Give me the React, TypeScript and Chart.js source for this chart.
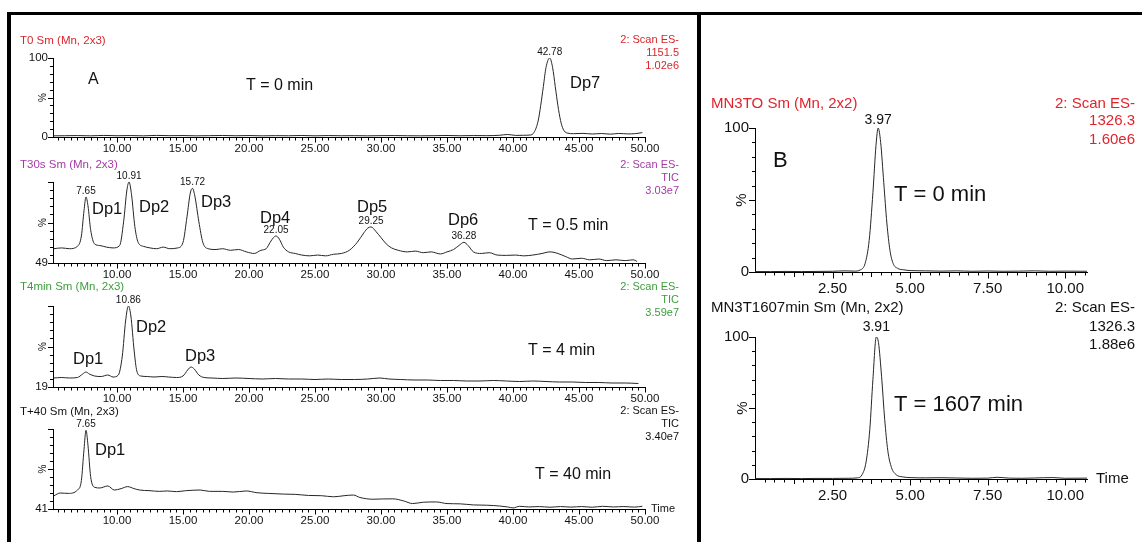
import React, { useEffect, useRef } from 'react';
import { Chart, registerables } from 'chart.js';

Chart.register(...registerables);

const FONT = '"Liberation Sans", Arial, Helvetica, sans-serif';

// ---------------- data (retention time [min], relative intensity [%]) ----------------
const T0_TRACE: [number, number][] = [
  [5.2, 1.5], [6, 1.6], [7, 1.8], [8, 1.5], [9, 2.0], [10, 1.6], [11, 1.8], [12, 1.5], [13, 2.0], [14, 1.7],
  [15, 1.8], [16, 1.5], [17, 1.7], [18, 1.9], [19, 1.6], [20, 1.8], [21, 1.5], [22, 1.7], [23, 1.6], [24, 1.9],
  [25, 1.5], [26, 1.8], [27, 1.6], [28, 1.7], [29, 1.5], [30, 1.7], [31, 1.8], [32, 1.6], [33, 1.5], [34, 1.7],
  [35, 1.9], [36, 1.6], [37, 1.8], [38, 1.7], [39, 2.2], [39.6, 3.2], [40.2, 2.0], [40.8, 2.2], [41.3, 2.5],
  [41.6, 6], [41.9, 20], [42.1, 40], [42.3, 64], [42.5, 88], [42.78, 100], [43.0, 88], [43.2, 64], [43.4, 40],
  [43.6, 21], [43.8, 10], [44.1, 5], [44.6, 4.2], [45.3, 4.6], [46, 3.8], [46.7, 4.4], [47.4, 3.6], [48, 4.5],
  [48.7, 3.9], [49.3, 4.3], [49.8, 5.5],
];

const T30S_TRACE: [number, number][] = [
  [5.2, 58], [5.8, 58.5], [6.4, 58], [7.0, 59.5], [7.3, 66], [7.5, 82], [7.65, 90.6], [7.8, 85], [8.0, 70],
  [8.3, 61], [8.7, 60], [9.2, 59], [9.7, 58.5], [10.2, 60], [10.5, 75], [10.75, 95], [10.91, 100], [11.1, 92],
  [11.35, 72], [11.6, 62], [12, 59.5], [12.5, 58.5], [13, 58], [13.5, 59], [14, 58], [14.6, 58.5], [15.0, 62],
  [15.3, 78], [15.55, 93], [15.72, 96], [15.9, 91], [16.2, 75], [16.5, 62], [16.9, 58], [17.5, 57.5], [18, 58],
  [18.6, 57], [19.2, 57.5], [19.8, 56], [20.4, 55], [20.9, 57], [21.3, 58], [21.6, 62], [21.85, 65], [22.05, 66],
  [22.3, 64], [22.6, 59], [23, 56], [23.5, 55], [24, 54], [24.6, 53.5], [25.2, 54], [25.8, 53.5], [26.4, 54.5],
  [27, 55], [27.6, 57], [28.2, 62], [28.7, 68], [29.0, 71], [29.25, 71.7], [29.6, 69], [30.0, 65], [30.4, 61],
  [30.8, 58.5], [31.3, 57], [32, 56], [32.6, 56.5], [33.2, 55.5], [33.8, 56], [34.5, 54.7], [35, 56], [35.5, 57.5],
  [35.9, 60], [36.28, 62], [36.6, 60], [37, 56], [37.6, 55], [38.2, 55.5], [38.8, 54], [39.5, 53.8], [40.2, 54],
  [40.8, 53.5], [41.5, 54], [42.2, 55], [42.8, 56], [43.4, 55], [44, 53], [44.5, 51.5], [45.2, 52], [45.8, 51],
  [46.5, 51.5], [47.1, 50.5], [47.8, 51], [48.5, 50.5], [49.1, 51], [49.4, 50],
];

const T4MIN_TRACE: [number, number][] = [
  [5.2, 28], [5.8, 28.5], [6.4, 28], [7.0, 28.5], [7.4, 32], [7.65, 34], [7.9, 32], [8.3, 30], [8.8, 29.5],
  [9.3, 31], [9.7, 29], [10.1, 31], [10.4, 50], [10.65, 85], [10.86, 100], [11.05, 90], [11.3, 55], [11.5, 35],
  [11.8, 30], [12.3, 29.5], [12.8, 29], [13.4, 29.5], [13.9, 29], [14.5, 28.5], [15.0, 30], [15.35, 36],
  [15.6, 39], [15.85, 37], [16.2, 31], [16.6, 28.5], [17.2, 28], [18, 27.5], [19, 28], [20, 27.5], [21, 27],
  [22, 27.5], [23, 27], [24, 27], [25, 26.5], [26, 27], [27, 26.5], [28, 26.5], [29, 27], [29.9, 28], [30.6, 27],
  [31.5, 26.5], [32.5, 26], [33.5, 26], [34.5, 25.5], [35.5, 25.5], [36.5, 25], [37.5, 25], [38.5, 25.5],
  [39.5, 25], [40.5, 24.5], [41.5, 25], [42.5, 24.5], [43.5, 24], [44.5, 24], [45.5, 23.5], [46.5, 23.5],
  [47.5, 23], [48.5, 23], [49.5, 22.5],
];

const T40_TRACE: [number, number][] = [
  [5.2, 50.6], [5.7, 52.8], [6.3, 52.5], [7.0, 55], [7.3, 62], [7.5, 85], [7.65, 99], [7.8, 88], [8.0, 65],
  [8.3, 57], [8.7, 56.5], [9.3, 58], [9.8, 55], [10.3, 56], [10.8, 57.5], [11.3, 56], [11.7, 55], [12.5, 54.5],
  [13.2, 54], [13.8, 54.3], [14.5, 53.8], [15.2, 54.5], [16.3, 55], [17, 54], [18, 54], [18.8, 53.5],
  [19.8, 54.3], [20.6, 53], [21.5, 52.5], [22.6, 52], [23.5, 51.8], [24.5, 51], [25.5, 50.8], [26.4, 50],
  [27.2, 50.8], [27.9, 51.3], [28.4, 49.5], [29.4, 48.2], [30.1, 48.4], [30.9, 48.5], [31.7, 47], [32.4, 45],
  [33.2, 46], [34.2, 46.2], [35, 45], [36, 44.8], [37, 44], [38, 43.8], [39, 43.2], [39.6, 42.5], [40, 41.8],
  [40.5, 43], [41.2, 42.5], [42, 42.8], [42.8, 42.3], [43.6, 42.8], [44.4, 42.4], [45.2, 42.8], [46, 42.3],
  [46.8, 43], [47.6, 42.5], [48.4, 42.8], [49.2, 42.4], [49.8, 43],
];

const MN3T0_TRACE: [number, number][] = [
  [0, 0.3], [0.5, 0.3], [1, 0.4], [1.5, 0.3], [2, 0.4], [2.5, 0.5], [2.9, 0.8], [3.2, 0.6], [3.4, 1.5],
  [3.55, 6], [3.68, 22], [3.8, 55], [3.9, 88], [3.97, 100], [4.05, 90], [4.15, 62], [4.25, 34], [4.35, 15],
  [4.45, 6], [4.6, 2.5], [4.8, 1.5], [5.0, 1.0], [5.5, 0.8], [6, 0.6], [6.5, 0.8], [7, 0.5], [7.5, 0.7],
  [8, 0.5], [8.5, 0.6], [9, 0.8], [9.5, 0.5], [10, 0.6], [10.7, 0.5],
];

const MN3T1607_TRACE: [number, number][] = [
  [0, 0.3], [0.5, 0.3], [1, 0.4], [1.5, 0.3], [2, 0.4], [2.5, 0.4], [3, 0.5], [3.3, 0.8], [3.45, 3],
  [3.58, 12], [3.7, 35], [3.8, 70], [3.91, 100], [3.98, 96], [4.08, 72], [4.18, 42], [4.28, 20], [4.4, 8],
  [4.55, 3], [4.75, 1.5], [5.0, 1], [5.5, 0.8], [6, 0.9], [6.5, 0.7], [7, 0.5], [7.5, 0.6], [7.8, 1.2],
  [8.2, 0.6], [8.6, 0.5], [9, 0.7], [9.6, 1.0], [10, 0.5], [10.7, 0.6],
];

// peaks that carry a retention-time label
const T0_PEAKS = [42.78];
const T30S_PEAKS = [7.65, 10.91, 15.72, 22.05, 29.25, 36.28];
const T4MIN_PEAKS = [10.86];
const T40_PEAKS = [7.65];
const MN3T0_PEAKS = [3.97];
const MN3T1607_PEAKS = [3.91];

// axes
const A_X_RANGE = [5.15, 50];
const A_X_LABELS = [10, 15, 20, 25, 30, 35, 40, 45, 50];
const B_X_RANGE = [0, 10.7];
const B_X_LABELS = [2.5, 5, 7.5, 10];
const T0_Y_RANGE = [0, 100];
const T30S_Y_RANGE = [49, 100];
const T4MIN_Y_RANGE = [19, 100];
const T40_Y_RANGE = [41, 100];
const B_Y_RANGE = [0, 100];

const RED = '#d8262c';
const RED_B = '#e3232b';
const PURPLE = '#a43aa8';
const GREEN = '#3c9e3c';
const INK = '#111111';

// ---------------- panel configuration ----------------
type TextItem = { text: string; x: number; y: number; size: number; color?: string; align?: CanvasTextAlign };
type PanelCfg = {
  box: number[]; // page px: left, top, right, bottom of canvas
  area: number[]; // page px: left, top, right, bottom of plot area
  trace: [number, number][];
  xRange: number[];
  yRange: number[];
  xStep: number;
  xMajor: number;
  xMed?: number;
  xLabels: number[];
  yTopLabel: boolean;
  tickSize: number;
  padX: number;
  padY: number;
  majorLen: number;
  pctSize: number;
  pctX: number;
  peaks: number[];
  peakSize: number;
  peakDy: number;
  texts: TextItem[];
};

const isMult = (v: number, s: number) => Math.abs(v / s - Math.round(v / s)) < 1e-6;

const scanBlock = (x: number, ys: number[], lines: string[], size: number, color: string): TextItem[] =>
  lines.map((t, i) => ({ text: t, x, y: ys[i], size, color, align: 'right' as CanvasTextAlign }));

const PANELS: PanelCfg[] = [
  {
    box: [14, 30, 695, 156], area: [53, 58, 645, 137], trace: T0_TRACE, xRange: A_X_RANGE, yRange: T0_Y_RANGE,
    xStep: 0.5, xMajor: 5, xLabels: A_X_LABELS, yTopLabel: true, tickSize: 11.5, padX: 2, padY: 2, majorLen: 5,
    pctSize: 10, pctX: 43, peaks: T0_PEAKS, peakSize: 10, peakDy: -6,
    texts: [
      { text: 'T0 Sm (Mn, 2x3)', x: 20, y: 41, size: 11.5, color: RED },
      ...scanBlock(679, [40, 53, 66], ['2: Scan ES-', '1151.5', '1.02e6'], 11, RED),
      { text: 'A', x: 88, y: 80, size: 16 },
      { text: 'T = 0 min', x: 246, y: 86, size: 16 },
      { text: 'Dp7', x: 570, y: 83, size: 16.5 },
    ],
  },
  {
    box: [14, 156, 695, 280], area: [53, 182, 645, 263], trace: T30S_TRACE, xRange: A_X_RANGE, yRange: T30S_Y_RANGE,
    xStep: 0.5, xMajor: 5, xLabels: A_X_LABELS, yTopLabel: false, tickSize: 11.5, padX: 2, padY: 2, majorLen: 5,
    pctSize: 10, pctX: 43, peaks: T30S_PEAKS, peakSize: 10, peakDy: -6,
    texts: [
      { text: 'T30s Sm (Mn, 2x3)', x: 20, y: 165, size: 11.5, color: PURPLE },
      ...scanBlock(679, [165, 178, 191], ['2: Scan ES-', 'TIC', '3.03e7'], 11, PURPLE),
      { text: 'Dp1', x: 92, y: 209, size: 16.5 },
      { text: 'Dp2', x: 139, y: 207, size: 16.5 },
      { text: 'Dp3', x: 201, y: 202, size: 16.5 },
      { text: 'Dp4', x: 260, y: 218, size: 16.5 },
      { text: 'Dp5', x: 357, y: 207, size: 16.5 },
      { text: 'Dp6', x: 448, y: 220, size: 16.5 },
      { text: 'T = 0.5 min', x: 528, y: 226, size: 16 },
    ],
  },
  {
    box: [14, 280, 695, 404], area: [53, 306, 645, 387], trace: T4MIN_TRACE, xRange: A_X_RANGE, yRange: T4MIN_Y_RANGE,
    xStep: 0.5, xMajor: 5, xLabels: A_X_LABELS, yTopLabel: false, tickSize: 11.5, padX: 2, padY: 2, majorLen: 5,
    pctSize: 10, pctX: 43, peaks: T4MIN_PEAKS, peakSize: 10, peakDy: -6,
    texts: [
      { text: 'T4min Sm (Mn, 2x3)', x: 20, y: 287, size: 11.5, color: GREEN },
      ...scanBlock(679, [287, 300, 313], ['2: Scan ES-', 'TIC', '3.59e7'], 11, GREEN),
      { text: 'Dp1', x: 73, y: 359, size: 16.5 },
      { text: 'Dp2', x: 136, y: 327, size: 16.5 },
      { text: 'Dp3', x: 185, y: 356, size: 16.5 },
      { text: 'T = 4 min', x: 528, y: 351, size: 16 },
    ],
  },
  {
    box: [14, 404, 695, 535], area: [53, 429, 645, 509], trace: T40_TRACE, xRange: A_X_RANGE, yRange: T40_Y_RANGE,
    xStep: 0.5, xMajor: 5, xLabels: A_X_LABELS, yTopLabel: false, tickSize: 11.5, padX: 2, padY: 2, majorLen: 5,
    pctSize: 10, pctX: 43, peaks: T40_PEAKS, peakSize: 10, peakDy: -6,
    texts: [
      { text: 'T+40 Sm (Mn, 2x3)', x: 20, y: 412, size: 11.5, color: INK },
      ...scanBlock(679, [411, 424, 437], ['2: Scan ES-', 'TIC', '3.40e7'], 11, INK),
      { text: 'Dp1', x: 95, y: 450, size: 16.5 },
      { text: 'T = 40 min', x: 535, y: 475, size: 16 },
      { text: 'Time', x: 651, y: 509, size: 11 },
    ],
  },
  {
    box: [703, 85, 1140, 298], area: [755, 128, 1087, 272], trace: MN3T0_TRACE, xRange: B_X_RANGE, yRange: B_Y_RANGE,
    xStep: 0.3125, xMajor: 2.5, xMed: 1.25, xLabels: B_X_LABELS, yTopLabel: true, tickSize: 15, padX: 5, padY: 3,
    majorLen: 6, pctSize: 15, pctX: 742, peaks: MN3T0_PEAKS, peakSize: 14, peakDy: -8,
    texts: [
      { text: 'MN3TO Sm (Mn, 2x2)', x: 711, y: 104, size: 15, color: RED_B },
      ...scanBlock(1135, [104, 121, 140], ['2: Scan ES-', '1326.3', '1.60e6'], 15, RED_B),
      { text: 'B', x: 773, y: 161, size: 22 },
      { text: 'T = 0 min', x: 894, y: 195, size: 22 },
    ],
  },
  {
    box: [703, 298, 1140, 515], area: [755, 337, 1087, 479], trace: MN3T1607_TRACE, xRange: B_X_RANGE, yRange: B_Y_RANGE,
    xStep: 0.3125, xMajor: 2.5, xMed: 1.25, xLabels: B_X_LABELS, yTopLabel: true, tickSize: 15, padX: 5, padY: 3,
    majorLen: 6, pctSize: 15, pctX: 743, peaks: MN3T1607_PEAKS, peakSize: 14, peakDy: -10,
    texts: [
      { text: 'MN3T1607min Sm (Mn, 2x2)', x: 711, y: 308, size: 15, color: INK },
      ...scanBlock(1135, [308, 327, 345], ['2: Scan ES-', '1326.3', '1.88e6'], 15, INK),
      { text: 'T = 1607 min', x: 894, y: 405, size: 22 },
      { text: 'Time', x: 1096, y: 479, size: 15 },
    ],
  },
];

// ---------------- chart factory ----------------
function makeChart(canvas: HTMLCanvasElement, p: PanelCfg) {
  const [bl, bt, br, bb] = p.box;
  const [al, at, ar, ab] = p.area;
  const [xmin, xmax] = p.xRange;
  const [ymin, ymax] = p.yRange;

  const xTicks: number[] = [];
  for (let k = Math.ceil(xmin / p.xStep - 1e-9); k * p.xStep <= xmax + 1e-9; k++) {
    if (k * p.xStep > xmin + 1e-9) xTicks.push(+(k * p.xStep).toFixed(6));
  }
  const yTicks: number[] = [];
  for (let k = 0; k <= 10; k++) yTicks.push(ymin + (k * (ymax - ymin)) / 10);

  const MINOR = 3;

  const decor = {
    id: 'decor',
    afterDraw(chart: any) {
      const { ctx, chartArea } = chart;
      const xs = chart.scales.x;
      const ys = chart.scales.y;
      ctx.save();
      // tick marks (minor + longer major)
      ctx.strokeStyle = '#000';
      ctx.lineWidth = 1;
      ctx.beginPath();
      const xAxisY = Math.round(chartArea.bottom);
      const yAxisX = Math.round(chartArea.left);
      xTicks.forEach((v) => {
        let len = MINOR;
        if (isMult(v, p.xMajor)) len = p.majorLen;
        else if (p.xMed && isMult(v, p.xMed)) len = p.majorLen - 1.5;
        const px = Math.round(xs.getPixelForValue(v)) + 0.5;
        ctx.moveTo(px, xAxisY);
        ctx.lineTo(px, xAxisY + len + 0.5);
      });
      yTicks.forEach((v, i) => {
        const len = i % 5 === 0 ? p.majorLen : MINOR;
        const py = Math.round(ys.getPixelForValue(v)) + 0.5;
        ctx.moveTo(yAxisX + 0.5, py);
        ctx.lineTo(yAxisX - len, py);
      });
      ctx.stroke();

      // rotated "%" axis caption
      ctx.fillStyle = INK;
      ctx.font = `${p.pctSize}px ${FONT}`;
      ctx.textAlign = 'center';
      ctx.textBaseline = 'middle';
      ctx.save();
      ctx.translate(p.pctX - bl, ys.getPixelForValue((ymin + ymax) / 2));
      ctx.rotate(-Math.PI / 2);
      ctx.fillText('%', 0, 0);
      ctx.restore();

      // peak retention-time labels
      ctx.font = `${p.peakSize}px ${FONT}`;
      ctx.textAlign = 'center';
      p.peaks.forEach((t) => {
        const pt = p.trace.find((d) => Math.abs(d[0] - t) < 1e-9);
        if (!pt) return;
        ctx.fillText(t.toFixed(2), xs.getPixelForValue(t), ys.getPixelForValue(pt[1]) + p.peakDy);
      });

      // free text
      p.texts.forEach((it) => {
        ctx.font = `${it.size}px ${FONT}`;
        ctx.fillStyle = it.color || INK;
        ctx.textAlign = it.align || 'left';
        ctx.textBaseline = 'middle';
        ctx.fillText(it.text, it.x - bl, it.y - bt);
      });
      ctx.restore();
    },
  };

  const tickFont = { family: FONT, size: p.tickSize };
  const hiddenGrid = {
    display: true,
    drawOnChartArea: false,
    drawTicks: true,
    tickLength: 3,
    tickColor: 'rgba(0,0,0,0)',
    color: 'rgba(0,0,0,0)',
  };

  return new Chart(canvas, {
    type: 'line',
    data: {
      datasets: [
        {
          data: p.trace.map(([x, y]) => ({ x, y })),
          borderColor: '#262626',
          borderWidth: 1,
          pointRadius: 0,
          fill: false,
          cubicInterpolationMode: 'monotone',
          borderJoinStyle: 'round',
        },
      ],
    },
    options: {
      responsive: false,
      animation: false,
      events: [],
      layout: { padding: { left: 0, top: at - bt, right: br - ar, bottom: 0 } },
      plugins: { legend: { display: false }, tooltip: { enabled: false }, title: { display: false } },
      scales: {
        x: {
          type: 'linear',
          min: xmin,
          max: xmax,
          afterBuildTicks: (s: any) => {
            s.ticks = xTicks.map((v) => ({ value: v }));
          },
          afterFit: (s: any) => {
            s.height = bb - ab;
          },
          ticks: {
            autoSkip: false,
            maxRotation: 0,
            minRotation: 0,
            padding: p.padX,
            color: INK,
            font: tickFont,
            callback: (v: any) => {
              const n = Number(v);
              return p.xLabels.some((l) => Math.abs(l - n) < 1e-6) ? n.toFixed(2) : '';
            },
          },
          grid: hiddenGrid,
          border: { display: true, color: '#000', width: 1 },
        },
        y: {
          type: 'linear',
          min: ymin,
          max: ymax,
          afterBuildTicks: (s: any) => {
            s.ticks = yTicks.map((v) => ({ value: v }));
          },
          afterFit: (s: any) => {
            s.width = al - bl;
          },
          ticks: {
            autoSkip: false,
            padding: p.padY,
            color: INK,
            font: tickFont,
            callback: (_v: any, i: number) => (i === 0 ? String(ymin) : i === 10 && p.yTopLabel ? String(ymax) : ''),
          },
          grid: hiddenGrid,
          border: { display: true, color: '#000', width: 1 },
        },
      },
    },
    plugins: [decor],
  } as any);
}

function Panel({ cfg }: { cfg: PanelCfg }) {
  const ref = useRef<HTMLCanvasElement>(null);
  useEffect(() => {
    if (!ref.current) return;
    const chart = makeChart(ref.current, cfg);
    return () => chart.destroy();
  }, [cfg]);
  const [l, t, r, b] = cfg.box;
  return (
    <div style={{ position: 'absolute', left: l, top: t, width: r - l, height: b - t }}>
      <canvas ref={ref} width={r - l} height={b - t} style={{ display: 'block', width: r - l, height: b - t }} />
    </div>
  );
}

export default function App() {
  const bar = (left: number, top: number, width: number, height: number) => (
    <div style={{ position: 'absolute', left, top, width, height, background: '#000' }} />
  );
  return (
    <div style={{ position: 'fixed', left: 0, top: 0, width: 1142, height: 542, background: '#fff', overflow: 'hidden' }}>
      {PANELS.map((p, i) => (
        <Panel key={i} cfg={p} />
      ))}
      {bar(8, 12, 1134, 3)}
      {bar(7, 12, 4, 530)}
      {bar(697, 12, 4, 530)}
    </div>
  );
}
